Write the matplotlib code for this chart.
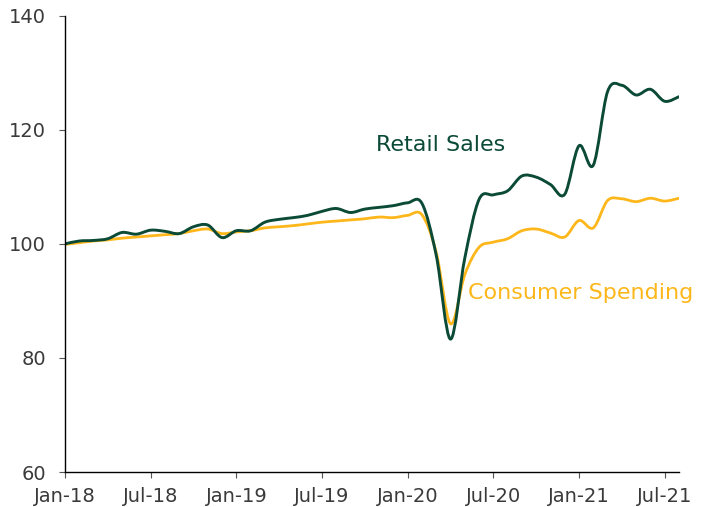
import matplotlib
matplotlib.use("Agg")
import matplotlib.pyplot as plt
import numpy as np
from matplotlib.path import Path
from matplotlib.patches import PathPatch

plt.rcParams['font.family'] = ['DejaVu Sans']

months = ["Jan-18", "Feb-18", "Mar-18", "Apr-18", "May-18", "Jun-18", "Jul-18", "Aug-18",
          "Sep-18", "Oct-18", "Nov-18", "Dec-18", "Jan-19", "Feb-19", "Mar-19", "Apr-19",
          "May-19", "Jun-19", "Jul-19", "Aug-19", "Sep-19", "Oct-19", "Nov-19", "Dec-19",
          "Jan-20", "Feb-20", "Mar-20", "Apr-20", "May-20", "Jun-20", "Jul-20", "Aug-20",
          "Sep-20", "Oct-20", "Nov-20", "Dec-20", "Jan-21", "Feb-21", "Mar-21", "Apr-21",
          "May-21", "Jun-21", "Jul-21", "Aug-21"]

retail_sales = [100.0, 100.5, 100.6, 100.9, 102.0, 101.7, 102.4, 102.2, 101.8, 103.0,
                103.3, 101.1, 102.3, 102.3, 103.8, 104.3, 104.6, 105.0, 105.7, 106.2,
                105.5, 106.1, 106.4, 106.7, 107.2, 107.1, 98.0, 83.3, 97.5, 107.8,
                108.6, 109.3, 111.9, 111.7, 110.4, 108.7, 117.2, 113.8, 126.7, 127.8,
                126.1, 127.1, 125.0, 125.8]

consumer_spending = [99.9, 100.2, 100.5, 100.7, 101.0, 101.2, 101.4, 101.6, 101.8, 102.3,
                     102.6, 101.8, 102.1, 102.3, 102.8, 103.0, 103.2, 103.5, 103.8, 104.0,
                     104.2, 104.4, 104.7, 104.6, 105.0, 105.1, 98.5, 86.0, 94.6, 99.4,
                     100.3, 100.9, 102.3, 102.6, 101.9, 101.2, 104.1, 102.8, 107.6, 107.9,
                     107.4, 108.0, 107.5, 108.0]

tick_labels = ["Jan-18", "Jul-18", "Jan-19", "Jul-19", "Jan-20", "Jul-20", "Jan-21", "Jul-21"]
y_ticks = [60, 80, 100, 120, 140]

GREEN = "#0b4a36"
YELLOW = "#fdb71a"


def smooth_path(xs, ys):
    """Catmull-Rom style Bezier path through the data points (like a smoothed line)."""
    pts = np.column_stack([xs, ys]).astype(float)
    n = len(pts)
    verts = [pts[0]]
    codes = [Path.MOVETO]
    for i in range(n - 1):
        p0 = pts[i - 1] if i > 0 else pts[i]
        p1 = pts[i]
        p2 = pts[i + 1]
        p3 = pts[i + 2] if i + 2 < n else pts[i + 1]
        c1 = p1 + (p2 - p0) / 6.0
        c2 = p2 - (p3 - p1) / 6.0
        verts += [c1, c2, p2]
        codes += [Path.CURVE4] * 3
    return Path(verts, codes)


fig = plt.figure(figsize=(7.1, 5.07), dpi=100)
ax = fig.add_axes([0.0915, 0.069, 0.8648, 0.900])

x = np.arange(len(months))
ax.add_patch(PathPatch(smooth_path(x, consumer_spending), fill=False,
                       edgecolor=YELLOW, lw=2.0, capstyle='round', joinstyle='round'))
ax.add_patch(PathPatch(smooth_path(x, retail_sales), fill=False,
                       edgecolor=GREEN, lw=2.1, capstyle='round', joinstyle='round'))

ax.set_xlim(0, len(months) - 1)
ax.set_ylim(60, 140)
ax.set_yticks(y_ticks)
ax.set_xticks([months.index(t) for t in tick_labels])
ax.set_xticklabels(tick_labels)

for s in ['top', 'right']:
    ax.spines[s].set_visible(False)
for s in ['left', 'bottom']:
    ax.spines[s].set_color('black')
    ax.spines[s].set_linewidth(1.0)

ax.tick_params(axis='y', length=4.5, width=0.8, color='#555555', pad=9,
               labelsize=14, labelcolor='#3a3a3a')
ax.tick_params(axis='x', length=4.0, width=0.8, color='#555555', pad=7,
               labelsize=14, labelcolor='#3a3a3a')

ax.text(21.8, 116.3, "Retail Sales", color=GREEN, fontsize=16,
        ha='left', va='baseline')
ax.text(28.2, 90.25, "Consumer Spending", color=YELLOW, fontsize=16,
        ha='left', va='baseline')

fig.savefig("out.png", dpi=100)
